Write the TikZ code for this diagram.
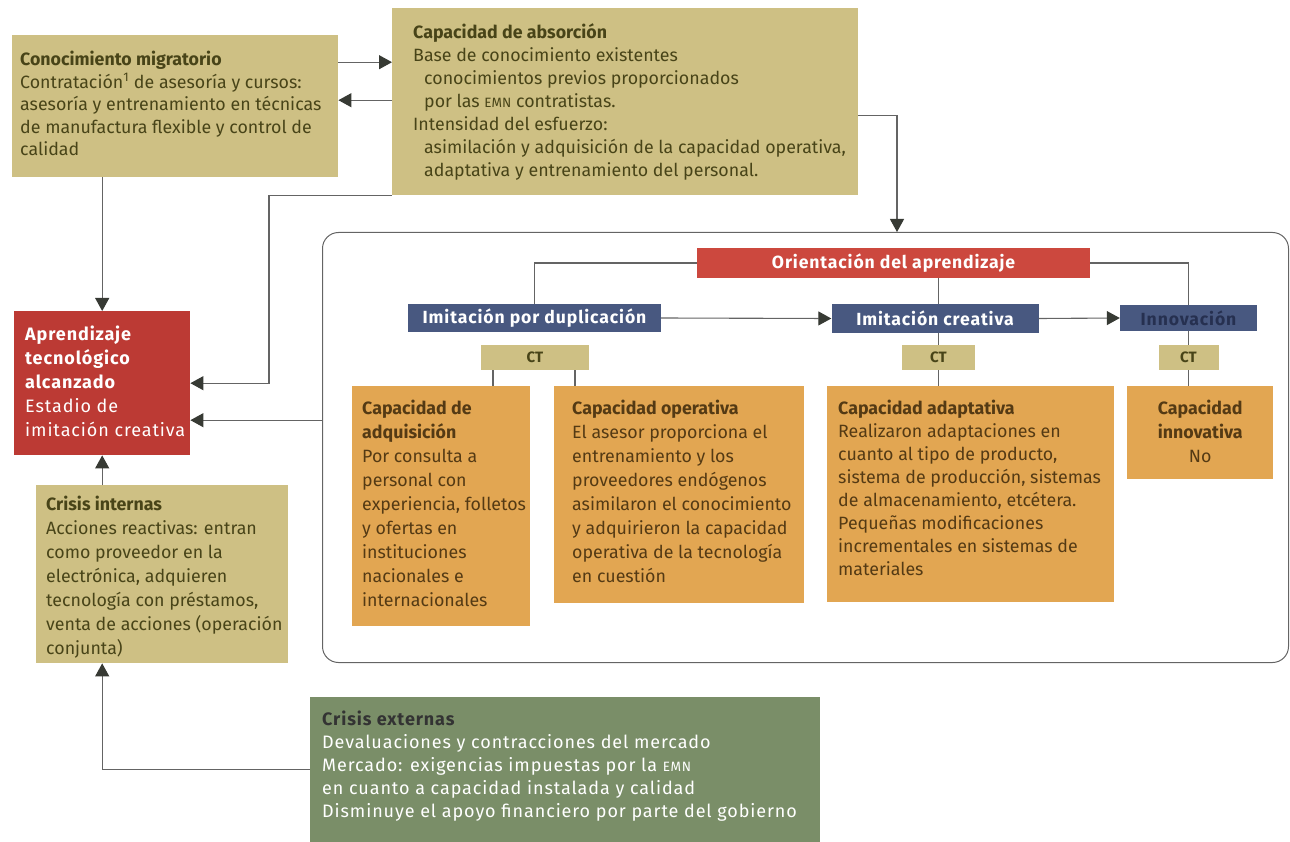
\documentclass[tikz,border=0pt]{standalone}
\usepackage{fontspec}
\setmainfont{Fira Sans}
\newfontfamily\abierta[LetterSpace=5]{Fira Sans}
\usetikzlibrary{arrows.meta}

\definecolor{caqui}{RGB}{206,192,132}
\definecolor{tcaqui}{RGB}{72,68,24}
\definecolor{naranja}{RGB}{226,166,82}
\definecolor{tnaranja}{RGB}{84,58,20}
\definecolor{rojo}{RGB}{188,58,52}
\definecolor{rojoclaro}{RGB}{204,72,62}
\definecolor{azul}{RGB}{72,88,128}
\definecolor{verde}{RGB}{122,142,104}
\definecolor{gris}{RGB}{100,100,100}
\definecolor{punta}{RGB}{55,58,52}

\newcommand{\cuerpo}{\fontsize{17.8}{22.5}\selectfont}
\newcommand{\emn}{{\fontsize{13.5}{22.5}\selectfont EMN}}

\begin{document}
\begin{tikzpicture}[x=1pt,y=1pt,yscale=-1,
    caja/.style={rectangle, inner sep=0pt, anchor=north west},
    caqui/.style={caja, fill=caqui},
    naranja/.style={caja, fill=naranja},
    barra/.style={rectangle, inner sep=0pt, text=white, font=\abierta\bfseries\fontsize{17.6}{20}\selectfont},
    azul/.style={barra, fill=azul},
    rojo/.style={caja, fill=rojo},
    verde/.style={caja, fill=verde},
    ct/.style={rectangle, inner sep=0pt, fill=caqui, text=tcaqui, font=\bfseries\fontsize{15}{17}\selectfont},
    texto/.style={anchor=north west, inner sep=0pt, align=left, font=\cuerpo},
    marco/.style={caja, draw=gris, line width=1pt, rounded corners=16pt},
    linea/.style={draw=gris, line width=1.1pt},
    flecha/.style={linea, -{Triangle[length=13pt,width=14pt,color=punta]}}]
\useasboundingbox (0,0) rectangle (1290,842);

% boxes top row
\node[caqui, minimum width=326pt, minimum height=142pt] (conoc) at (12,35) {};
\node[texto, text=tcaqui] (conoctxt) at ([xshift=8pt,yshift=16pt]conoc.north west)
  {\textbf{Conocimiento migratorio}\\
   Contratación\textsuperscript{1} de asesoría y cursos:\\
   asesoría y entrenamiento en técnicas\\
   de manufactura flexible y control de\\
   calidad};

\node[caqui, minimum width=466pt, minimum height=187pt] (absorc) at (392,8) {};
\node[texto, text=tcaqui, font=\fontsize{17.8}{23}\selectfont] (absorctxt) at ([xshift=21pt,yshift=15pt]absorc.north west)
  {\textbf{Capacidad de absorción}\\
   Base de conocimiento existentes\\
   \hspace*{11pt}conocimientos previos proporcionados\\
   \hspace*{11pt}por las \emn{} contratistas.\\
   Intensidad del esfuerzo:\\
   \hspace*{11pt}asimilación y adquisición de la capacidad operativa,\\
   \hspace*{11pt}adaptativa y entrenamiento del personal.};

% left column
\node[rojo, minimum width=176pt, minimum height=144pt] (aprend) at (14,311) {};
\node[texto, text=white, font=\abierta\fontsize{18}{24}\selectfont] (aprendtxt) at ([xshift=11pt,yshift=15pt]aprend.north west)
  {\textbf{Aprendizaje}\\ \textbf{tecnológico}\\ \textbf{alcanzado}\\
   Estadio de\\ imitación creativa};

\node[caqui, minimum width=252pt, minimum height=178pt] (crisint) at (36,485) {};
\node[texto, text=tcaqui, font=\fontsize{17.8}{24}\selectfont] (crisinttxt) at ([xshift=10pt,yshift=11pt]crisint.north west)
  {\textbf{Crisis internas}\\
   Acciones reactivas: entran\\
   como proveedor en la\\
   electrónica, adquieren\\
   tecnología con préstamos,\\
   venta de acciones (operación\\
   conjunta)};

\node[verde, minimum width=510pt, minimum height=145pt] (crisext) at (310,697) {};
\node[texto, text=white, font=\abierta\fontsize{18}{23}\selectfont] (crisexttxt) at ([xshift=12pt,yshift=14pt]crisext.north west)
  {\textcolor{black!80}{\textbf{Crisis externas}}\\
   Devaluaciones y contracciones del mercado\\
   Mercado: exigencias impuestas por la \emn\\
   en cuanto a capacidad instalada y calidad\\
   Disminuye el apoyo financiero por parte del gobierno};

% learning frame
\node[marco, minimum width=966pt, minimum height=430pt] (frame) at (322,232) {};
\node[barra, fill=rojoclaro, minimum width=393pt, minimum height=30pt] (orient) at (893.5,263) {Orientación del aprendizaje};

\node[azul, minimum width=253pt, minimum height=28pt] (dup) at (534.5,318) {Imitación por duplicación};
\node[azul, minimum width=207pt, minimum height=29pt] (creat) at (935,318.5) {Imitación creativa};
\node[azul, minimum width=137pt, minimum height=26pt, text={rgb,255:red,38;green,48;blue,80}] (innov) at (1188.5,318) {Innovación};

\node[ct, minimum width=108pt, minimum height=25pt] (ct1) at (535,357.5) {CT};
\node[ct, minimum width=73pt, minimum height=25pt] (ct2) at (938.5,357.5) {CT};
\node[ct, minimum width=60pt, minimum height=25pt] (ct3) at (1188.5,357.5) {CT};

\node[naranja, minimum width=178pt, minimum height=240pt] (adq) at (352,386) {};
\node[texto, text=tnaranja, font=\fontsize{17.8}{24}\selectfont] (adqtxt) at ([xshift=10pt,yshift=14pt]adq.north west)
  {\textbf{Capacidad de}\\ \textbf{adquisición}\\
   Por consulta a\\ personal con\\ experiencia, folletos\\ y ofertas en\\
   instituciones\\ nacionales e\\ internacionales};

\node[naranja, minimum width=250pt, minimum height=217pt] (oper) at (554,386) {};
\node[texto, text=tnaranja, font=\fontsize{17.8}{24}\selectfont] (opertxt) at ([xshift=18pt,yshift=14pt]oper.north west)
  {\textbf{Capacidad operativa}\\
   El asesor proporciona el\\ entrenamiento y los\\ proveedores endógenos\\
   asimilaron el conocimiento\\ y adquirieron la capacidad\\
   operativa de la tecnología\\ en cuestión};

\node[naranja, minimum width=287pt, minimum height=216pt] (adap) at (827,386) {};
\node[texto, text=tnaranja, font=\fontsize{17.8}{23}\selectfont] (adaptxt) at ([xshift=11pt,yshift=14pt]adap.north west)
  {\textbf{Capacidad adaptativa}\\
   Realizaron adaptaciones en\\ cuanto al tipo de producto,\\
   sistema de producción, sistemas\\ de almacenamiento, etcétera.\\
   Pequeñas modificaciones\\ incrementales en sistemas de\\ materiales};

\node[naranja, minimum width=146pt, minimum height=93pt] (innova) at (1127,386) {};
\node[texto, anchor=north, align=center, text=tnaranja, font=\fontsize{17.8}{24}\selectfont] (innovatxt) at ([yshift=14pt]innova.north)
  {\textbf{Capacidad}\\ \textbf{innovativa}\\ No};

% connectors top
\coordinate (c1) at ([yshift=-44pt]conoc.east);
\coordinate (c2) at ([yshift=-6pt]conoc.east);
\draw[flecha] (c1) -- (c1 -| absorc.west);
\draw[flecha] (c2 -| absorc.west) -- (c2);
\coordinate (bajada) at (897,232);
\draw[flecha] ([yshift=13.5pt]absorc.east) -| (bajada);
\draw[flecha] (absorc.south west) -- ++(-123,0) |- (aprend.east);
\draw[flecha] (aprend.north |- conoc.south) -- (aprend.north);

% connectors left column
\coordinate (c3) at ([yshift=37pt]aprend.east);
\draw[flecha] (c3 -| frame.west) -- (c3);
\draw[flecha] (aprend.south |- crisint.north) -- (aprend.south);
\draw[flecha] (crisext.west) -| (aprend.south |- crisint.south);

% connectors inside the frame
\draw[linea] (orient.west) -| (dup.north);
\draw[linea] (orient.east) -| (innov.north);
\draw[linea] (ct2.north |- orient.south) -- (ct2.north |- creat.north);
\draw[linea] (ct2.north |- creat.south) -- (ct2.north);
\draw[linea] (ct2.south) -- (ct2.south |- adap.north);
\draw[linea] (innov.south) -- (innov.south |- ct3.north);
\draw[linea] (ct3.south) -- (ct3.south |- innova.north);
\coordinate (t1) at ([xshift=-42pt]ct1.south);
\coordinate (t2) at ([xshift=40pt]ct1.south);
\draw[linea] (t1) -- (t1 |- adq.north);
\draw[linea] (t2) -- (t2 |- oper.north);
\draw[flecha] (dup.east) -- (creat.west);
\draw[flecha] (creat.east) -- (innov.west);
\end{tikzpicture}
\end{document}
